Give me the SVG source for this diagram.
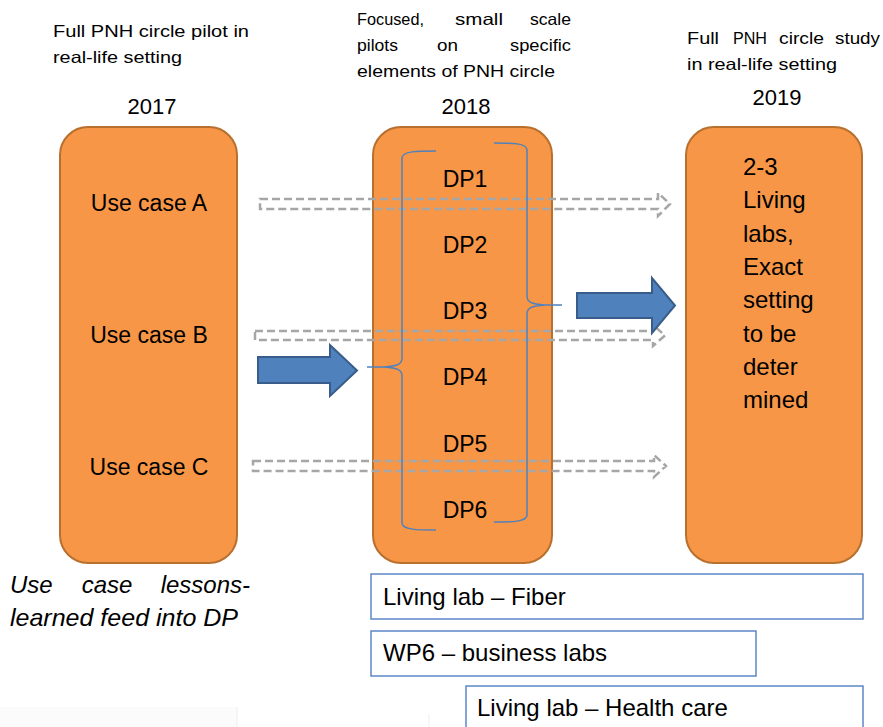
<svg xmlns="http://www.w3.org/2000/svg" width="883" height="727" viewBox="0 0 883 727">
  <style>
    text { font-family: "Liberation Sans", Arial, sans-serif; fill: #000; }
    .hdr { font-size: 16.5px; }
    .year { font-size: 22px; text-anchor: middle; }
    .body { font-size: 23px; }
    .big { font-size: 24px; }
    .note { font-size: 24px; font-style: italic; }
    .mid { text-anchor: middle; }
    .end { text-anchor: end; }
    .phase { fill: #F79646; stroke: #B8702F; stroke-width: 2; }
    .lab { fill: #fff; stroke: #5B87C7; stroke-width: 1.5; }
    .dash { fill: none; stroke: #A6A6A6; stroke-width: 2.5; stroke-dasharray: 8 4; stroke-linejoin: miter; }
    .block { fill: #4F81BD; stroke: #385D8A; stroke-width: 2; stroke-linejoin: miter; }
    .brace { fill: none; stroke: #4F81BD; stroke-width: 1.5; }
  </style>

  <!-- faint marks along the bottom edge -->
  <rect x="0" y="707" width="237" height="20" fill="#FBFBFB"/>
  <line x1="237" y1="707" x2="237" y2="727" stroke="#EEEEEE" stroke-width="1"/>
  <line x1="429" y1="714" x2="429" y2="727" stroke="#EEEEEE" stroke-width="1"/>

  <!-- column headers -->
  <g id="header-2017">
    <text class="hdr" x="53" y="37" textLength="196" lengthAdjust="spacingAndGlyphs">Full PNH circle pilot in</text>
    <text class="hdr" x="53" y="63" textLength="129" lengthAdjust="spacingAndGlyphs">real-life setting</text>
    <text class="year" x="152" y="114">2017</text>
  </g>
  <g id="header-2018">
    <text class="hdr" x="357" y="25" textLength="67" lengthAdjust="spacingAndGlyphs">Focused,</text>
    <text class="hdr" x="455" y="25" textLength="48" lengthAdjust="spacingAndGlyphs">small</text>
    <text class="hdr" x="530" y="25" textLength="41" lengthAdjust="spacingAndGlyphs">scale</text>
    <text class="hdr" x="357" y="51" textLength="41" lengthAdjust="spacingAndGlyphs">pilots</text>
    <text class="hdr" x="437" y="51" textLength="21" lengthAdjust="spacingAndGlyphs">on</text>
    <text class="hdr" x="510" y="51" textLength="61" lengthAdjust="spacingAndGlyphs">specific</text>
    <text class="hdr" x="357" y="77" textLength="198" lengthAdjust="spacingAndGlyphs">elements of PNH circle</text>
    <text class="year" x="466" y="114">2018</text>
  </g>
  <g id="header-2019">
    <text class="hdr" x="687" y="44" textLength="32" lengthAdjust="spacingAndGlyphs">Full</text>
    <text class="hdr" x="733" y="44" textLength="34" lengthAdjust="spacingAndGlyphs">PNH</text>
    <text class="hdr" x="779" y="44" textLength="45" lengthAdjust="spacingAndGlyphs">circle</text>
    <text class="hdr" x="835" y="44" textLength="45" lengthAdjust="spacingAndGlyphs">study</text>
    <text class="hdr" x="687" y="70" textLength="150" lengthAdjust="spacingAndGlyphs">in real-life setting</text>
    <text class="year" x="777" y="105">2019</text>
  </g>

  <!-- phase columns -->
  <g id="pilot-2017">
    <rect class="phase" x="60" y="127" width="177" height="436" rx="28" ry="28"/>
    <text class="body mid" x="149" y="211">Use case A</text>
    <text class="body mid" x="149" y="343">Use case B</text>
    <text class="body mid" x="149" y="475">Use case C</text>
  </g>

  <g id="pilots-2018">
    <rect class="phase" x="373" y="127" width="179" height="436" rx="28" ry="28"/>
    <text class="body mid" x="465" y="187">DP1</text>
    <text class="body mid" x="465" y="253">DP2</text>
    <text class="body mid" x="465" y="319">DP3</text>
    <text class="body mid" x="465" y="385">DP4</text>
    <text class="body mid" x="465" y="452">DP5</text>
    <text class="body mid" x="465" y="518">DP6</text>
  </g>

  <g id="study-2019">
    <rect class="phase" x="686" y="127" width="176" height="436" rx="28" ry="28"/>
    <text class="big" x="743" y="175">2-3</text>
    <text class="big" x="743" y="208">Living</text>
    <text class="big" x="743" y="242">labs,</text>
    <text class="big" x="743" y="275">Exact</text>
    <text class="big" x="743" y="308">setting</text>
    <text class="big" x="743" y="342">to be</text>
    <text class="big" x="743" y="375">deter</text>
    <text class="big" x="743" y="408">mined</text>
  </g>

  <!-- connectors -->
  <g id="connectors">
    <!-- hollow dashed arrows from the use cases to the study -->
    <path class="dash" d="M260,199 H658 V193 L670,204 L658,216 V209 H260 Z"/>
    <path class="dash" d="M255,331 H653 V325 L665,335.5 L653,346 V340 H255 Z"/>
    <path class="dash" d="M253,461 H654 V455 L666,466 L654,477 V471 H253 Z"/>

    <!-- braces grouping the DPs -->
    <path class="brace" d="M436,151 C418,151 402,151 402,158 V358 C402,364 398,366 384,367 H367 M384,367 C398,368 402,370 402,376 V523 C402,530 418,530 436,530"/>
    <path class="brace" d="M494,143 C512,143 527,143 527,150 V296 C527,302 531,304 545,305 H562 M545,305 C531,306 527,308 527,314 V515 C527,522 512,522 494,522"/>

    <!-- block arrows -->
    <path class="block" d="M258,357 H330 V345 L357,370.5 L330,396 V383 H258 Z"/>
    <path class="block" d="M577,293 H652 V278 L675,305.5 L652,333 V318 H577 Z"/>
  </g>

  <!-- note under the 2017 column -->
  <g id="lessons-note">
    <text class="note" x="10" y="593">Use</text>
    <text class="note mid" x="107" y="593">case</text>
    <text class="note end" x="250" y="593">lessons-</text>
    <text class="note" x="10" y="626" textLength="228" lengthAdjust="spacingAndGlyphs">learned feed into DP</text>
  </g>

  <!-- living lab bars -->
  <g id="lab-fiber">
    <rect class="lab" x="371" y="574" width="492" height="45"/>
    <text class="big" x="383" y="605">Living lab – Fiber</text>
  </g>
  <g id="lab-business">
    <rect class="lab" x="371" y="631" width="385" height="45"/>
    <text class="big" x="383" y="661">WP6 – business labs</text>
  </g>
  <g id="lab-health">
    <rect class="lab" x="466" y="686" width="397" height="50"/>
    <text class="big" x="477" y="716">Living lab – Health care</text>
  </g>
</svg>
